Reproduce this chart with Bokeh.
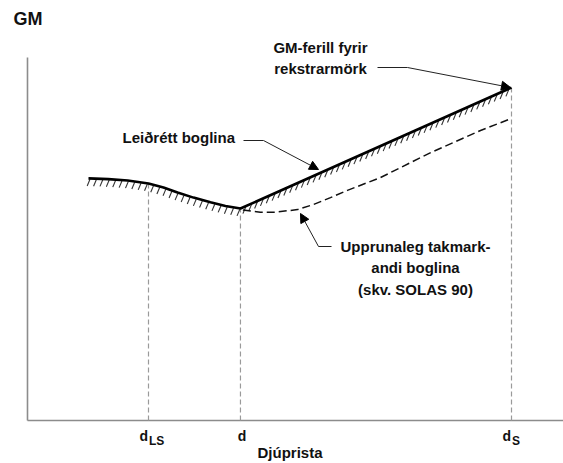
import numpy as np
from bokeh.plotting import figure
from bokeh.models import Range1d, Label, Arrow, NormalHead
from bokeh.embed import file_html
from bokeh.resources import INLINE

# ---------------- data (schematic units) ----------------
# corrected limiting curve (solid, hatched)
corr_draft = [1.26, 1.67, 2.07, 2.50, 2.81, 3.10, 3.43, 3.78, 4.09, 4.40, 10.0]
corr_gm = [6.67, 6.65, 6.61, 6.53, 6.42, 6.28, 6.14, 6.01, 5.91, 5.84, 9.17]
# original limiting curve (dashed, SOLAS 90)
orig_draft = [4.45, 4.81, 5.12, 5.58, 5.91, 6.26, 6.61, 7.29, 8.33, 9.36, 10.0]
orig_gm = [5.80, 5.74, 5.74, 5.81, 5.95, 6.14, 6.34, 6.69, 7.38, 7.99, 8.32]
# characteristic drafts
tick_pos = [2.50, 4.40, 10.0]
tick_main = ["d", "d", "d"]
tick_sub = ["LS", "", "S"]
x_title = "Djúprista"
y_title = "GM"
y_axis_top = 10.0
label_ops = ["GM-ferill fyrir", "rekstrarmörk"]
label_corr = "Leiðrétt boglina"
label_orig = ["Upprunaleg takmark-", "andi boglina", "(skv. SOLAS 90)"]

# ---------------- layout helpers (page pixels -> data) ----------------
PX0, PXU = 27.0, 48.4
PY0, PYU = 420.0, 36.3
def X(px): return (px - PX0) / PXU
def Y(py): return (PY0 - py) / PYU
def PX(u): return PX0 + np.asarray(u) * PXU
def PY(g): return PY0 - np.asarray(g) * PYU

W, H = 563, 463
p = figure(width=W, height=H, output_backend="svg", toolbar_location=None,
           x_range=Range1d(X(0), X(W)), y_range=Range1d(Y(H), Y(0)),
           x_axis_type=None, y_axis_type=None, min_border=0)
p.grid.visible = False
p.outline_line_color = None
p.background_fill_color = "white"
p.border_fill_color = "white"

FONT = "Liberation Sans"
INK = "#111111"
AX = "#8c8c8c"

# axes
xr = p.x_range.end
p.line([0, 0], [0, y_axis_top], line_color=AX, line_width=1.6)
p.line([0, xr], [0, 0], line_color=AX, line_width=1.6)

# vertical dashed guide lines
tops = np.interp(tick_pos, corr_draft, corr_gm)
p.segment(x0=tick_pos, y0=[0] * 3, x1=tick_pos, y1=tops,
          line_color="#9a9a9a", line_width=1.2, line_dash="5 3")

# hatching under the corrected curve
cx, cy = PX(corr_draft), PY(corr_gm)
seg = np.hypot(np.diff(cx), np.diff(cy))
s = np.concatenate([[0], np.cumsum(seg)])
ss = np.arange(1.5, s[-1] - 1, 6.4)
hx = np.interp(ss, s, cx)
hy = np.interp(ss, s, cy)
p.segment(x0=X(hx), y0=Y(hy + 0.8), x1=X(hx - 2.8), y1=Y(hy + 7.5),
          line_color="#333333", line_width=1.1)

# curves
p.line(corr_draft, corr_gm, line_color="black", line_width=2.6)
p.line(orig_draft, orig_gm, line_color="#111111", line_width=1.5, line_dash="8 4")

def lbl(px, base, text, size=15, align="left"):
    # base = desired alphabetic baseline (page px); placed by its middle
    p.add_layout(Label(x=X(px), y=Y(base - 0.35 * size), text=text, text_font=FONT,
                       text_font_style="bold", text_font_size=f"{size}px",
                       text_color=INK, text_align=align,
                       text_baseline="middle"))

# axis titles
lbl(13, 25, y_title, size=18)
lbl(289.5, 457, x_title, align="center")

# tick labels (d with subscripts)
for pos, m, sub in zip(tick_pos, tick_main, tick_sub):
    tx = PX(pos)
    if sub:
        lbl(tx - 0.5, 440, m, size=14, align="right")
        lbl(tx + 0.5, 444.5, sub, size=12)
    else:
        lbl(tx + 1.5, 440, m, size=14, align="center")

# annotation texts
lbl(320, 52, label_ops[0], align="center")
lbl(320, 73, label_ops[1], align="center")
lbl(122, 142, label_corr)
for i, t in enumerate(label_orig):
    lbl(415, 251 + 21.5 * i, t, align="center")

# leader lines
def leader(pts, tip):
    xs = [X(a) for a, b in pts] + [X(tip[0])]
    ys = [Y(b) for a, b in pts] + [Y(tip[1])]
    p.line(xs[:-1], ys[:-1], line_color="#222222", line_width=1)
    p.add_layout(Arrow(end=NormalHead(size=9, fill_color="black", line_color="black", line_width=1),
                       x_start=xs[-2], y_start=ys[-2], x_end=xs[-1], y_end=ys[-1],
                       line_color="#222222", line_width=1))

leader([(377, 67), (407, 67)], (510, 87))
leader([(243, 140), (263, 140)], (318, 169))
leader([(331, 246), (318, 246)], (300, 213))

open("out.html", "w").write(file_html(p, INLINE))
